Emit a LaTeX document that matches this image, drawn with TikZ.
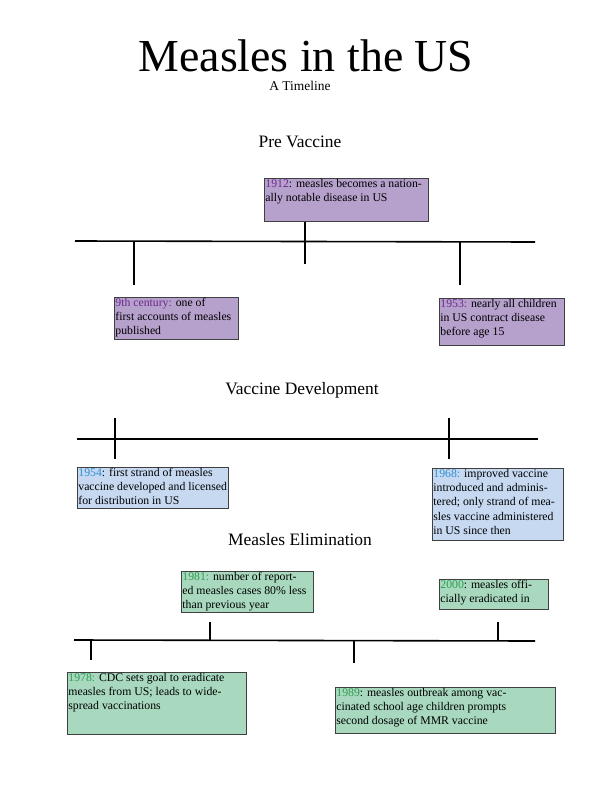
\documentclass[tikz,border=0pt]{standalone}
\usepackage{fontspec}
\setmainfont{Liberation Serif}
\definecolor{purpfill}{HTML}{B6A0CC}
\definecolor{purptext}{HTML}{6E2A8C}
\definecolor{bluefill}{HTML}{C6D9F1}
\definecolor{bluetext}{HTML}{2E8FD0}
\definecolor{greenfill}{HTML}{A8D9BE}
\definecolor{greentext}{HTML}{2E9E52}
\definecolor{edgegray}{HTML}{404040}
\newcommand{\evtext}[3]{\parbox[t][#2][t]{#1}{\raggedright\fontsize{11.8}{14.2}\selectfont #3}}
\tikzset{
  evbox/.style={draw=edgegray, line width=0.8bp, anchor=north west, inner sep=1bp, font=\fontsize{11.8}{14.2}\selectfont},
  tline/.style={line width=1.6bp, black},
  tick/.style={line width=1.6bp, black},
  heading/.style={font=\fontsize{17.5}{20}\selectfont, anchor=base},
}
\begin{document}
\begin{tikzpicture}[x=1bp,y=-1bp]
\useasboundingbox (0,0) rectangle (612,792);
% title
\node[font=\fontsize{46}{50}\selectfont, anchor=base, inner sep=0pt, text depth=0pt] (title) at (306,72) {Measles in the US};
\node[font=\fontsize{13.5}{15}\selectfont, anchor=base, inner sep=0pt] (subtitle) at (300,90) {A Timeline};

% ---------- Pre Vaccine
\node[heading] (h1) at (300,147) {Pre Vaccine};
\coordinate (l1a) at (75,241);
\coordinate (l1b) at (535,242);
\draw[tline] (l1a) -- (l1b);

\node[evbox, fill=purpfill] (e1912) at (264,178)
  {\evtext{162bp}{41bp}{\textcolor{purptext}{1912}: measles becomes a nation-\\ally notable disease in US}};
\node[evbox, fill=purpfill] (e9th) at (114,297)
  {\evtext{122bp}{40bp}{\textcolor{purptext}{9th century:} one of\\first accounts of measles\\published}};
\node[evbox, fill=purpfill] (e1953) at (439,298)
  {\evtext{123bp}{45bp}{\textcolor{purptext}{1953:} nearly all children\\in US contract disease\\before age 15}};

\coordinate (t1a) at (305,222); \coordinate (t1b) at (305,264);
\coordinate (t2a) at (134,241); \coordinate (t2b) at (134,285);
\coordinate (t3a) at (460,242); \coordinate (t3b) at (460,285);
\draw[tick] (t1a) -- (t1b);
\draw[tick] (t2a) -- (t2b);
\draw[tick] (t3a) -- (t3b);

% ---------- Vaccine Development
\node[heading] (h2) at (302,394) {Vaccine Development};
\coordinate (l2a) at (77,439);
\coordinate (l2b) at (538,439);
\draw[tline] (l2a) -- (l2b);

\node[evbox, fill=bluefill] (e1954) at (77,467)
  {\evtext{149bp}{39bp}{\textcolor{bluetext}{1954}: first strand of measles\\vaccine developed and licensed\\for distribution in US}};
\node[evbox, fill=bluefill] (e1968) at (432,468)
  {\evtext{129bp}{70bp}{\textcolor{bluetext}{1968:} improved vaccine\\introduced and adminis-\\tered; only strand of mea-\\sles vaccine administered\\in US since then}};

\coordinate (t4a) at (115,418); \coordinate (t4b) at (115,459);
\coordinate (t5a) at (449,418); \coordinate (t5b) at (449,459);
\draw[tick] (t4a) -- (t4b);
\draw[tick] (t5a) -- (t5b);

% ---------- Measles Elimination
\node[heading] (h3) at (300,545) {Measles Elimination};
\coordinate (l3a) at (74,640);
\coordinate (l3b) at (535,641);
\draw[tline] (l3a) -- (l3b);

\node[evbox, fill=greenfill] (e1981) at (181,571)
  {\evtext{130bp}{39bp}{\textcolor{greentext}{1981:} number of report-\\ed measles cases 80\% less\\than previous year}};
\node[evbox, fill=greenfill] (e2000) at (439,579)
  {\evtext{107bp}{28bp}{\textcolor{greentext}{2000}: measles offi-\\cially eradicated in}};
\node[evbox, fill=greenfill] (e1978) at (67,672)
  {\evtext{177bp}{60bp}{\textcolor{greentext}{1978:} CDC sets goal to eradicate\\measles from US; leads to wide-\\spread vaccinations}};
\node[evbox, fill=greenfill] (e1989) at (335,687)
  {\evtext{218bp}{44bp}{\textcolor{greentext}{1989}: measles outbreak among vac-\\cinated school age children prompts\\second dosage of MMR vaccine}};

\coordinate (t6a) at (210,622); \coordinate (t6b) at (210,640);
\coordinate (t7a) at (91,640);  \coordinate (t7b) at (91,660);
\coordinate (t8a) at (354,641); \coordinate (t8b) at (354,663);
\coordinate (t9a) at (498,622); \coordinate (t9b) at (498,641);
\draw[tick] (t6a) -- (t6b);
\draw[tick] (t7a) -- (t7b);
\draw[tick] (t8a) -- (t8b);
\draw[tick] (t9a) -- (t9b);
\end{tikzpicture}
\end{document}
